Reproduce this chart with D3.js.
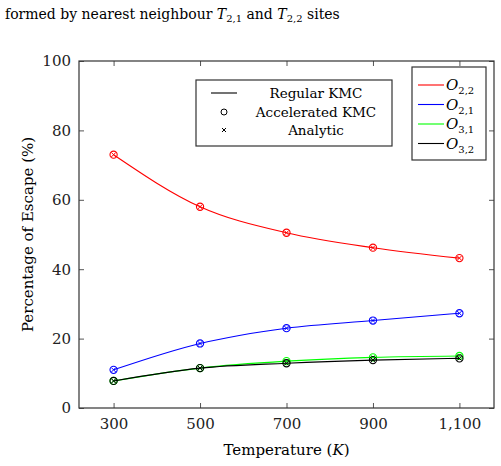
<!DOCTYPE html>
<html>
<head>
<meta charset="UTF-8" />
<script src="https://d3js.org/d3.v7.min.js"></script>
<style>
  body { margin: 0; background: #fff; }
  svg { font-family: "DejaVu Serif", serif; }
</style>
</head>
<body>
<svg width="501" height="466"></svg>
<script>
  const temps = [300, 500, 700, 900, 1100]
  const o22 = [73, 58, 50.5, 46.2, 43.2]
  const o21 = [11, 18.6, 23, 25.2, 27.3]
  const o31 = [7.8, 11.5, 13.5, 14.6, 15]
  const o32 = [7.8, 11.5, 12.9, 13.8, 14.3]
  const yTicks = [0, 20, 40, 60, 80, 100]
  const series = [
    { name: "2,2", color: "#ff0000", values: o22 },
    { name: "2,1", color: "#0000ff", values: o21 },
    { name: "3,1", color: "#00ff00", values: o31 },
    { name: "3,2", color: "#000000", values: o32 }
  ]

  const margin = { left: 79, right: 7, top: 61, bottom: 58 }
  const width = 501, height = 466
  const x = d3.scaleLinear().domain([220, 1180]).range([margin.left, width - margin.right])
  const y = d3.scaleLinear().domain([0, 100]).range([height - margin.bottom, margin.top])

  const svg = d3.select("svg")

  // caption fragment above the plot
  const cap = svg.append("text").attr("x", 5).attr("y", 19).attr("font-size", 14)
  cap.append("tspan").text("formed by nearest neighbour ")
  cap.append("tspan").attr("font-style", "italic").text("T")
  cap.append("tspan").attr("font-size", 10).attr("dy", 3).text("2,1")
  cap.append("tspan").attr("dy", -3).text(" and ")
  cap.append("tspan").attr("font-style", "italic").text("T")
  cap.append("tspan").attr("font-size", 10).attr("dy", 3).text("2,2")
  cap.append("tspan").attr("dy", -3).text(" sites")

  const axisStyle = g => {
    g.selectAll("line").attr("stroke", "#555")
    g.select(".domain").remove()
    g.selectAll("text").attr("font-family", "DejaVu Serif, serif").attr("font-size", 15).attr("fill", "#222")
  }
  svg.append("g").attr("transform", `translate(0,${y(0)})`)
    .call(d3.axisBottom(x).tickValues(temps).tickSize(-5).tickPadding(10).tickFormat(d3.format(",")))
    .call(axisStyle)
  svg.append("g").attr("transform", `translate(0,${y(100)})`)
    .call(d3.axisTop(x).tickValues(temps).tickSize(-5).tickFormat(""))
    .call(axisStyle)
  svg.append("g").attr("transform", `translate(${margin.left},0)`)
    .call(d3.axisLeft(y).tickValues(yTicks).tickSize(-5).tickPadding(8))
    .call(axisStyle)
  svg.append("g").attr("transform", `translate(${width - margin.right},0)`)
    .call(d3.axisRight(y).tickValues(yTicks).tickSize(-5).tickFormat(""))
    .call(axisStyle)
  svg.append("rect").attr("x", margin.left).attr("y", margin.top)
    .attr("width", width - margin.right - margin.left).attr("height", y(0) - y(100))
    .attr("fill", "none").attr("stroke", "#333").attr("stroke-width", 1.2)

  const line = d3.line().x((d, i) => x(temps[i])).y(d => y(d)).curve(d3.curveMonotoneX)
  series.forEach(s => {
    const g = svg.append("g")
    g.append("path").attr("d", line(s.values)).attr("fill", "none").attr("stroke", s.color).attr("stroke-width", 1.1)
    s.values.forEach((v, i) => {
      const cx = x(temps[i]), cy = y(v)
      g.append("circle").attr("cx", cx).attr("cy", cy).attr("r", 3.6).attr("fill", "none").attr("stroke", s.color).attr("stroke-width", 1.1)
      g.append("path").attr("d", `M${cx - 2.3},${cy - 2.3}L${cx + 2.3},${cy + 2.3}M${cx - 2.3},${cy + 2.3}L${cx + 2.3},${cy - 2.3}`)
        .attr("stroke", s.color).attr("stroke-width", 1)
    })
  })

  // method legend
  const lg = svg.append("g")
  lg.append("rect").attr("x", 196).attr("y", 80).attr("width", 196).attr("height", 66)
    .attr("fill", "#fff").attr("stroke", "#333").attr("stroke-width", 1.2)
  lg.append("line").attr("x1", 211).attr("x2", 237).attr("y1", 93).attr("y2", 93).attr("stroke", "#000").attr("stroke-width", 1.1)
  lg.append("circle").attr("cx", 224).attr("cy", 112).attr("r", 3).attr("fill", "none").attr("stroke", "#000")
  lg.append("path").attr("d", "M222,128L226,132M222,132L226,128").attr("stroke", "#000")
  ;["Regular KMC", "Accelerated KMC", "Analytic"].forEach((t, i) => {
    lg.append("text").attr("x", 316).attr("y", 98 + i * 18.5).attr("text-anchor", "middle").attr("font-size", 13.5).text(t)
  })

  // series legend
  const sg = svg.append("g")
  sg.append("rect").attr("x", 412).attr("y", 67).attr("width", 74).attr("height", 93)
    .attr("fill", "#fff").attr("stroke", "#333").attr("stroke-width", 1.2)
  series.forEach((s, i) => {
    const cy = 85 + i * 19.5
    sg.append("line").attr("x1", 418).attr("x2", 444).attr("y1", cy).attr("y2", cy).attr("stroke", s.color).attr("stroke-width", 1.1)
    const t = sg.append("text").attr("x", 446).attr("y", cy + 5).attr("font-size", 15)
    t.append("tspan").attr("font-style", "italic").text("O")
    t.append("tspan").attr("font-size", 10).attr("dy", 4).text(s.name)
  })

  svg.append("text").attr("x", (margin.left + width - margin.right) / 2).attr("y", 455)
    .attr("text-anchor", "middle").attr("font-size", 15)
    .call(t => {
      t.append("tspan").text("Temperature (")
      t.append("tspan").attr("font-style", "italic").text("K")
      t.append("tspan").text(")")
    })
  svg.append("text").attr("transform", `translate(33,${y(50)}) rotate(-90)`)
    .attr("text-anchor", "middle").attr("font-size", 15).text("Percentage of Escape (%)")
</script>
</body>
</html>
